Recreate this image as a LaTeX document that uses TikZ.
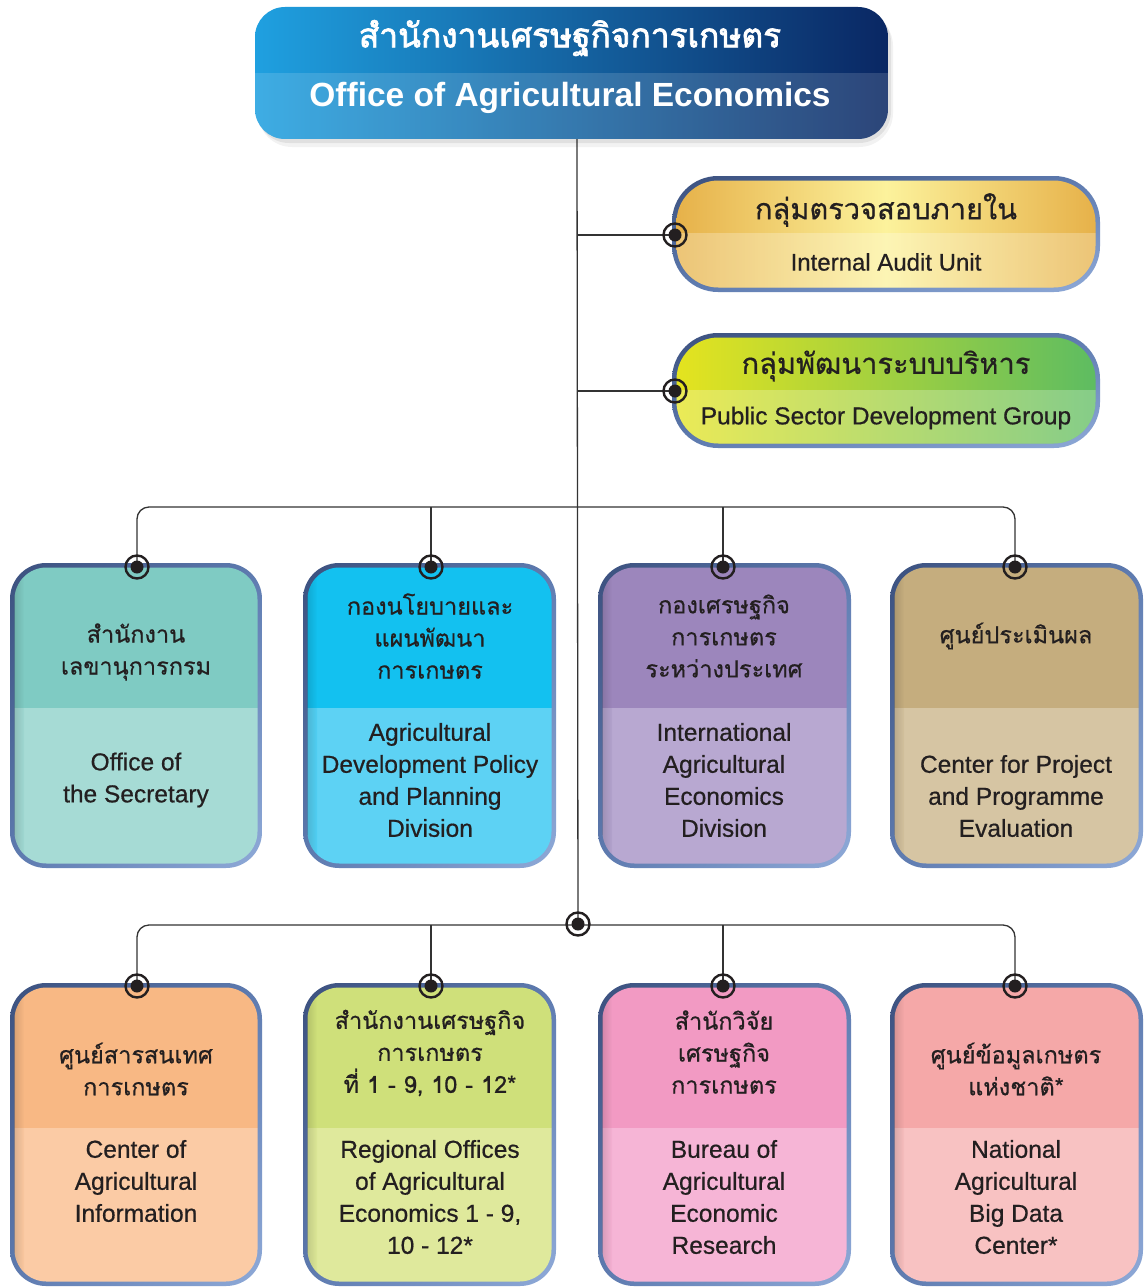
\documentclass[tikz,border=0pt]{standalone}
\usepackage{fontspec}
\usetikzlibrary{shadings}
\setmainfont{Liberation Sans}
\newfontfamily\thaifont[Script=Thai, FakeBold=0.6]{Loma}
\newfontfamily\thaiheavy[Script=Thai, FakeBold=2.2]{Loma}
\newfontfamily\enfont[FakeBold=0.6]{Liberation Sans}
\definecolor{txt}{HTML}{231F20}
\definecolor{conncol}{HTML}{333333}
\definecolor{bdark}{HTML}{3B507E}
\definecolor{bmid}{HTML}{5E7BB0}
\definecolor{blight}{HTML}{8FAAD8}
\definecolor{oaeL}{HTML}{1FA0E0}
\definecolor{oaeR}{HTML}{0A2763}
\definecolor{goldE}{HTML}{E6B048}
\definecolor{goldM}{HTML}{FCF29C}
\definecolor{grnL}{HTML}{E6E41E}
\definecolor{grnR}{HTML}{5CBC62}
\definecolor{aT}{HTML}{7FCBC3}\definecolor{aB}{HTML}{A6DBD5}
\definecolor{bT}{HTML}{13C1F0}\definecolor{bB}{HTML}{5DD2F4}
\definecolor{cT}{HTML}{9C86BC}\definecolor{cB}{HTML}{B8A8D1}
\definecolor{dT}{HTML}{C5AD7E}\definecolor{dB}{HTML}{D6C5A3}
\definecolor{eT}{HTML}{F8B884}\definecolor{eB}{HTML}{FBCBA5}
\definecolor{fT}{HTML}{CFE07A}\definecolor{fB}{HTML}{DFE99C}
\definecolor{gT}{HTML}{F29AC3}\definecolor{gB}{HTML}{F6B5D6}
\definecolor{hT}{HTML}{F5A8A8}\definecolor{hB}{HTML}{F8C2C2}
\tikzset{
  conn/.style={draw=conncol, line width=1.3pt},
  thtext/.style={text=txt, align=center, inner sep=0pt, font=\thaifont\fontsize{23.5}{32}\selectfont},
  entext/.style={text=txt, align=center, inner sep=0pt, font=\enfont\fontsize{24.5}{32}\selectfont},
  boxframe/.style={inner sep=0pt, draw=none},
  frameshade/.style={upper left=bdark, upper right=bmid, lower left=bmid, lower right=blight}
}
% #1 name, #2 x1, #3 y1, #4 x2, #5 y2, #6 ydiv, #7 top colour, #8 bottom colour
\newcommand\orgbox[8]{%
  \shade[rounded corners=36pt, frameshade] (#2,#3) rectangle (#4,#5);
  \begin{scope}
    \clip[rounded corners=32pt] (#2+4.5,#3+4.5) rectangle (#4-4.5,#5-4.5);
    \fill[#7] (#2,#3) rectangle (#4,#6);
    \fill[#8] (#2,#6) rectangle (#4,#5);
    \shade[left color=black, right color=#7, opacity=0.18] (#2,#3) rectangle (#2+14,#5);
  \end{scope}
  \node[boxframe, minimum width=#4-#2, minimum height=#5-#3] (#1) at ({(#2+#4)/2},{(#3+#5)/2}) {};
}
\newcommand\marker[1]{%
  \draw[line width=2.4pt, txt] (#1) circle (11.5pt);
  \fill[txt] (#1) circle (6.5pt);
}
\begin{document}
\begin{tikzpicture}[x=1pt,y=-1pt]
\useasboundingbox (0,0) rectangle (1145,1287);
\fill[white] (0,0) rectangle (1145,1287);

% ---------- coordinates for connectors ----------
\coordinate (oae-s) at (577,139);
\coordinate (hub) at (578,924);
\coordinate (bar1) at (577,507);
\coordinate (bar2) at (578,925);
\coordinate (m-aud) at (675,235);
\coordinate (m-pub) at (675,391);
\coordinate (m1) at (137,567);
\coordinate (m2) at (431,567);
\coordinate (m3) at (723,567);
\coordinate (m4) at (1015,567);
\coordinate (m5) at (137,986);
\coordinate (m6) at (431,986);
\coordinate (m7) at (723,986);
\coordinate (m8) at (1015,986);

% ---------- connectors ----------
\draw[conn] (oae-s) -- (hub);
\draw[conn] (m-aud) -- (m-aud -| oae-s);
\draw[conn] (m-pub) -- (m-pub -| oae-s);
\draw[conn, rounded corners=12pt] (m1) |- (bar1) -| (m4);
\draw[conn] (m2) -- (m2 |- bar1);
\draw[conn] (m3) -- (m3 |- bar1);
\draw[conn, rounded corners=12pt] (m5) |- (bar2) -| (m8);
\draw[conn] (m6) -- (m6 |- bar2);
\draw[conn] (m7) -- (m7 |- bar2);

% ---------- top box ----------
\fill[black, opacity=0.05, rounded corners=34pt] (258,12) rectangle (893,147);
\fill[black, opacity=0.07, rounded corners=32pt] (257,10) rectangle (891,143);
\shade[left color=oaeL, right color=oaeR, rounded corners=30pt] (255,7) rectangle (888,139);
\begin{scope}
  \clip[rounded corners=30pt] (255,7) rectangle (888,139);
  \fill[white, opacity=0.14] (255,73) rectangle (888,139);
\end{scope}
\node[boxframe, minimum width=633, minimum height=132] (oae) at (571.5,73) {};
\node[text=white, inner sep=0pt, font=\thaiheavy\fontsize{33.5}{33.5}\selectfont] (oae-th) at (570,38) {สำนักงานเศรษฐกิจการเกษตร};
\node[text=white, inner sep=0pt, font=\bfseries\fontsize{33.5}{33.5}\selectfont] (oae-en) at (570,98) {Office of Agricultural Economics};

% ---------- internal audit ----------
\shade[rounded corners=46pt, frameshade] (672,176) rectangle (1100,292);
\begin{scope}
  \clip[rounded corners=42pt] (676.5,180.5) rectangle (1095.5,287.5);
  \shade[left color=goldE, right color=goldE, middle color=goldM] (672,176) rectangle (1100,292);
  \fill[white, opacity=0.25] (672,233) rectangle (1100,292);
\end{scope}
\node[boxframe, minimum width=428, minimum height=116] (aud) at (886,234) {};
\node[text=txt, inner sep=0pt, font=\thaifont\fontsize{29}{29}\selectfont] (aud-th) at (886,210) {กลุ่มตรวจสอบภายใน};
\node[text=txt, inner sep=0pt, font=\enfont\fontsize{24}{24}\selectfont] (aud-en) at (886,262) {Internal Audit Unit};

% ---------- public sector ----------
\shade[rounded corners=46pt, frameshade] (672,333) rectangle (1100,448);
\begin{scope}
  \clip[rounded corners=42pt] (676.5,337.5) rectangle (1095.5,443.5);
  \shade[left color=grnL, right color=grnR] (672,333) rectangle (1100,448);
  \fill[white, opacity=0.25] (672,390) rectangle (1100,448);
\end{scope}
\node[boxframe, minimum width=428, minimum height=115] (pub) at (886,390.5) {};
\node[text=txt, inner sep=0pt, font=\thaifont\fontsize{29}{29}\selectfont] (pub-th) at (886,366) {กลุ่มพัฒนาระบบบริหาร};
\node[text=txt, inner sep=0pt, font=\enfont\fontsize{24.5}{24.5}\selectfont] (pub-en) at (886,418) {Public Sector Development Group};

% ---------- row 1 ----------
\orgbox{b1}{10}{563}{262}{868}{708}{aT}{aB}
\orgbox{b2}{303}{563}{556}{868}{708}{bT}{bB}
\orgbox{b3}{598}{563}{851}{868}{708}{cT}{cB}
\orgbox{b4}{890}{563}{1143}{868}{708}{dT}{dB}

\node[thtext] at (136,652) {สำนักงาน\\เลขานุการกรม};
\node[entext] at (136,780) {Office of\\the Secretary};
\node[thtext] at (430,636) {กองนโยบายและ\\แผนพัฒนา\\การเกษตร};
\node[entext] at (430,780) {Agricultural\\Development Policy\\and Planning\\Division};
\node[thtext] at (724,636) {กองเศรษฐกิจ\\การเกษตร\\ระหว่างประเทศ};
\node[entext] at (724,780) {International\\Agricultural\\Economics\\Division};
\node[thtext] at (1016,636) {ศูนย์ประเมินผล};
\node[entext] at (1016,796) {Center for Project\\and Programme\\Evaluation};

% ---------- row 2 ----------
\orgbox{b5}{10}{983}{262}{1286}{1128}{eT}{eB}
\orgbox{b6}{303}{983}{556}{1286}{1128}{fT}{fB}
\orgbox{b7}{598}{983}{851}{1286}{1128}{gT}{gB}
\orgbox{b8}{890}{983}{1143}{1286}{1128}{hT}{hB}

\node[thtext] at (136,1069) {ศูนย์สารสนเทศ\\การเกษตร};
\node[entext] at (136,1181) {Center of\\Agricultural\\Information};
\node[thtext] at (430,1053) {สำนักงานเศรษฐกิจ\\การเกษตร\\ที่ 1 - 9, 10 - 12*};
\node[entext] at (430,1197) {Regional Offices\\of Agricultural\\Economics 1 - 9,\\10 - 12*};
\node[thtext] at (724,1052) {สำนักวิจัย\\เศรษฐกิจ\\การเกษตร};
\node[entext] at (724,1197) {Bureau of\\Agricultural\\Economic\\Research};
\node[thtext] at (1016,1069) {ศูนย์ข้อมูลเกษตร\\แห่งชาติ*};
\node[entext] at (1016,1197) {National\\Agricultural\\Big Data\\Center*};

% ---------- markers ----------
\marker{m-aud}
\marker{m-pub}
\marker{hub}
\marker{m1}\marker{m2}\marker{m3}\marker{m4}
\marker{m5}\marker{m6}\marker{m7}\marker{m8}
\end{tikzpicture}
\end{document}
